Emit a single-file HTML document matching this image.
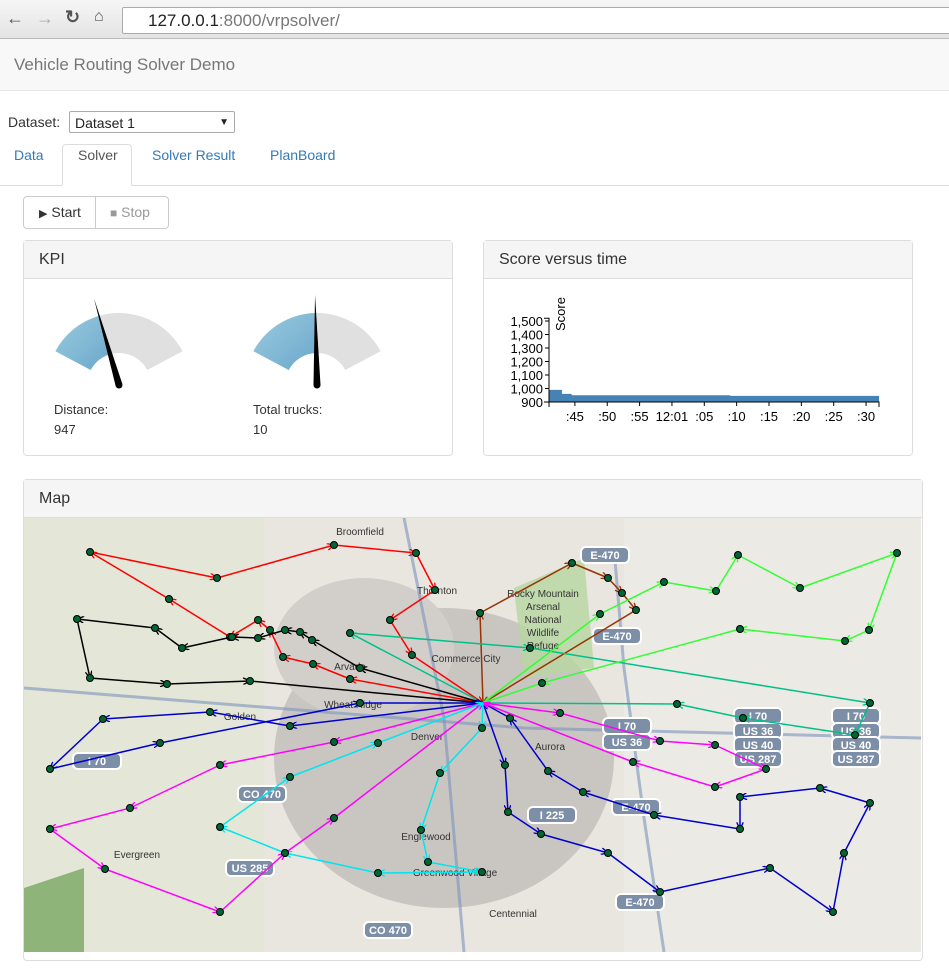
<!DOCTYPE html>
<html><head><meta charset="utf-8"><style>
body{margin:0;width:949px;height:971px;overflow:hidden;font-family:"Liberation Sans",sans-serif;background:#fff;position:relative}
.abs{position:absolute}
.panel{position:absolute;border:1px solid #ddd;border-radius:4px;background:#fff}
.ph{height:37px;background:#f5f5f5;border-bottom:1px solid #ddd;font-size:16px;color:#333;line-height:37px;padding-left:15px}
.tab{position:absolute;top:147px;font-size:14px;color:#337ab7}
</style></head><body>
<div class="abs" style="left:0;top:0;width:949px;height:38px;background:linear-gradient(#f6f6f6,#e4e4e4);border-bottom:1px solid #bbb"></div>
<div class="abs" style="left:6px;top:8px;font-size:18px;color:#555">&#8592;</div>
<div class="abs" style="left:36px;top:8px;font-size:18px;color:#aaa">&#8594;</div>
<div class="abs" style="left:65px;top:7px;font-size:18px;color:#555;font-weight:bold">&#8635;</div>
<div class="abs" style="left:94px;top:8px;font-size:16px;color:#555">&#8962;</div>
<div class="abs" style="left:122px;top:7px;width:840px;height:25px;background:#fff;border:1px solid #aaa;border-radius:2px;font-size:17px;line-height:25px;padding-left:25px;color:#777"><span style="color:#222">127.0.0.1</span>:8000/vrpsolver/</div>
<div class="abs" style="left:0;top:39px;width:949px;height:51px;background:#f8f8f8;border-bottom:1px solid #e7e7e7"><span style="position:absolute;left:14px;top:16px;font-size:17px;color:#777">Vehicle Routing Solver Demo</span></div>
<div class="abs" style="left:8px;top:114px;font-size:14px;color:#333">Dataset:</div>
<div class="abs" style="left:69px;top:111px;width:166px;height:22px;border:1px solid #aaa;border-radius:2px;font-size:14px;line-height:22px;padding-left:5px;box-sizing:border-box;color:#222">Dataset 1<span style="position:absolute;right:5px;font-size:10px">&#9660;</span></div>
<div class="abs" style="left:0;top:185px;width:949px;height:1px;background:#ddd"></div>
<div class="abs" style="left:62px;top:144px;width:70px;height:42px;border:1px solid #ddd;border-bottom-color:#fff;border-radius:4px 4px 0 0;background:#fff;box-sizing:border-box"></div>
<div class="tab" style="left:14px">Data</div>
<div class="tab" style="left:78px;color:#555">Solver</div>
<div class="tab" style="left:152px">Solver Result</div>
<div class="tab" style="left:270px">PlanBoard</div>
<div class="abs" style="left:23px;top:196px;width:73px;height:33px;border:1px solid #ccc;border-radius:4px 0 0 4px;box-sizing:border-box;font-size:14px;line-height:31px;color:#333;padding-left:15px"><span style="font-size:11px">&#9654;</span> Start</div>
<div class="abs" style="left:96px;top:196px;width:73px;height:33px;border:1px solid #ccc;border-left:none;border-radius:0 4px 4px 0;box-sizing:border-box;font-size:14px;line-height:31px;color:#999;padding-left:14px"><span style="font-size:12px">&#9632;</span> Stop</div>

<div class="panel" style="left:23px;top:240px;width:428px;height:214px">
<div class="ph">KPI</div></div>
<svg class="abs" style="left:0;top:0" width="460" height="460">
<defs><linearGradient id="gb" x1="0" y1="0" x2="1" y2="1"><stop offset="0" stop-color="#9ccbe0"/><stop offset="1" stop-color="#6aa8cb"/></linearGradient></defs>
<g id="gauges"></g>
<text x="54" y="414" font-size="13" fill="#333">Distance:</text>
<text x="54" y="434" font-size="13" fill="#333">947</text>
<text x="253" y="414" font-size="13" fill="#333">Total trucks:</text>
<text x="253" y="434" font-size="13" fill="#333">10</text>
</svg>

<div class="panel" style="left:483px;top:240px;width:428px;height:214px">
<div class="ph">Score versus time</div></div>
<svg class="abs" style="left:483px;top:280px" width="430" height="170" id="sc"></svg>

<div class="panel" style="left:23px;top:479px;width:898px;height:480px">
<div class="ph">Map</div></div>
<svg class="abs" style="left:24px;top:518px" width="897" height="434" id="map"></svg>

<script>
var NS="http://www.w3.org/2000/svg";
function mk(p,t,a){var e=document.createElementNS(NS,t);for(var k in a)e.setAttribute(k,a[k]);p.appendChild(e);return e;}
// gauges
var gaugeValues=[0.37,0.49];
var gaugeCenters=[119,317];
var g=document.getElementById('gauges');
function arcPath(cx,cy,R,r,a0,a1){function p(rad,a){return [cx+rad*Math.sin(a),cy-rad*Math.cos(a)];}
var A=p(R,a0),B=p(R,a1),C=p(r,a1),D=p(r,a0);var L=(a1-a0)>Math.PI?1:0;
return "M"+A+"A"+R+","+R+" 0 "+L+" 1 "+B+"L"+C+"A"+r+","+r+" 0 "+L+" 0 "+D+"Z";}
var span=62*Math.PI/180;
for(var i=0;i<gaugeValues.length;i++){
 var cx=gaugeCenters[i],cy=385,v=gaugeValues[i];var an=-span+2*span*v;
 var bg=mk(g,'path',{d:arcPath(cx,cy,72,32,-span,span),fill:'#e0e0e0'});
 
 
 var fg=mk(g,'path',{d:arcPath(cx,cy,72,32,-span,an),fill:'url(#gb)'});
 
 
 var tx=cx+90*Math.sin(an),ty=cy-90*Math.cos(an);var px=Math.cos(an)*3.5,py=Math.sin(an)*3.5;
 var nd=mk(g,'path',{d:"M"+tx+","+ty+"L"+(cx+px)+","+(cy+py)+"L"+(cx-px)+","+(cy-py)+"Z",fill:'#000'});
 
 
 var hub=mk(g,'circle',{cx:cx,cy:cy,r:3.5,fill:'#000'});
 
 
}
// score chart
var times=[41,43,44.5,69,92];
var scores=[990,960,950,945,945];
var yTicks=[900,1000,1100,1200,1300,1400,1500];
var yTickLabels=["900","1,000","1,100","1,200","1,300","1,400","1,500"];
var xTicks=[45,50,55,60,65,70,75,80,85,90];
var xTickLabels=[":45",":50",":55","12:01",":05",":10",":15",":20",":25",":30"];
var sc=document.getElementById('sc');
var X0=66,X1=396,Y0=122;
function sx(t){return X0+(t-41)/(92-41)*(X1-X0);}
function sy(v){return Y0-(v-900)*0.135;}
var d="M"+sx(times[0])+","+Y0;
for(var i=0;i<times.length;i++){d+="L"+sx(times[i])+","+sy(scores[i]);if(i<times.length-1)d+="L"+sx(times[i+1])+","+sy(scores[i]);}
d+="L"+sx(times[times.length-1])+","+Y0+"Z";
var ar=mk(sc,'path',{d:d,fill:'#4682b4'});


var ya=mk(sc,'path',{d:"M"+(X0-5)+","+(sy(1520))+"H"+X0+"V"+Y0+"H"+(X0-5),stroke:'#000',fill:'none'});


for(var i=0;i<yTicks.length;i++){var t=mk(sc,'text',{x:X0-6,y:sy(yTicks[i])+5,'font-size':13,'text-anchor':'end'});t.textContent=yTickLabels[i];
 
 
 mk(sc,'line',{x1:X0-4,x2:X0,y1:sy(yTicks[i]),y2:sy(yTicks[i]),stroke:'#000'});}
var xa=mk(sc,'path',{d:"M"+X0+","+(Y0+5)+"V"+Y0+"H"+X1+"V"+(Y0+5),stroke:'#000',fill:'none'});


for(var i=0;i<xTicks.length;i++){var t=mk(sc,'text',{x:sx(xTicks[i]),y:Y0+19,'font-size':13,'text-anchor':'middle'});t.textContent=xTickLabels[i];
 
 
 mk(sc,'line',{x1:sx(xTicks[i]),x2:sx(xTicks[i]),y1:Y0,y2:Y0+4,stroke:'#000'});}
var yt=mk(sc,'text',{transform:'translate(82,34) rotate(-90)','font-size':13,'text-anchor':'middle'});yt.textContent="Score";



// map
var m=document.getElementById('map');
mk(m,'rect',{width:897,height:434,fill:'#e9e6df'});
mk(m,'ellipse',{cx:420,cy:240,rx:170,ry:150,fill:'#c9c6c2'});
mk(m,'ellipse',{cx:340,cy:130,rx:90,ry:70,fill:'#d2cfca'});
mk(m,'rect',{x:600,y:0,width:297,height:434,fill:'#eceae4'});
mk(m,'rect',{x:0,y:0,width:240,height:434,fill:'#e4e6d8'});
mk(m,'path',{d:"M490,70 L560,40 L570,150 L500,160Z",fill:'#b6d7a0',opacity:0.8});
mk(m,'path',{d:"M0,370 L60,350 L60,434 L0,434Z",fill:'#8fb47a'});
mk(m,'path',{d:"M0,170 L500,210 L897,220",stroke:'#7c93bb',fill:'none','stroke-width':3,opacity:0.6});
mk(m,'path',{d:"M380,0 L420,200 L440,434",stroke:'#7c93bb',fill:'none','stroke-width':3,opacity:0.6});
mk(m,'path',{d:"M590,30 L600,150 L620,300 L640,434",stroke:'#7c93bb',fill:'none','stroke-width':3,opacity:0.6});
var depot=[483,703];
var routeColors=['#ff0000','#000000','#993300','#00c08a','#33ff33','#0000cc','#0000cc','#ff00ff','#ff00ff','#00e5ee'];
var r0=[[350,679],[313,664],[283,657],[270,630],[258,620],[230,637],[169,599],[90,552],[217,578],[334,545],[416,553],[435,590],[390,620],[412,655]];
var r1=[[360,668],[312,640],[300,632],[285,630],[258,638],[232,637],[182,648],[155,628],[77,619],[90,678],[167,684],[250,681]];
var r2=[[480,613],[572,563],[608,578],[622,593],[636,610]];
var r3=[[350,633],[530,648],[870,703],[855,735],[743,718],[677,704]];
var r4=[[600,614],[664,582],[716,591],[738,555],[800,588],[897,553],[869,630],[845,641],[740,629],[542,683]];
var r5=[[290,726],[210,712],[103,719],[50,769],[160,743],[360,703]];
var r6=[[505,765],[508,812],[541,834],[608,853],[660,892],[770,868],[833,912],[844,853],[870,803],[820,788],[740,797],[740,829],[654,815],[583,792],[548,771],[510,718]];
var r7=[[334,742],[220,765],[130,808],[50,829],[105,869],[220,912],[285,853],[334,818]];
var r8=[[560,713],[660,741],[715,745],[766,769],[715,787],[633,762]];
var r9=[[482,728],[440,773],[421,830],[428,862],[482,872],[378,873],[285,853],[220,827],[290,777],[378,743]];
var routes=[r0,r1,r2,r3,r4,r5,r6,r7,r8,r9];
var shields=[["E-470",605,555],["E-470",617,636],["I 70",627,726],["US 36",627,742],["I 70",758,716],["US 36",758,731],["US 40",758,745],["US 287",758,759],["I 70",856,716],["US 36",856,731],["US 40",856,745],["US 287",856,759],["I 70",97,761],["CO 470",262,794],["US 285",250,868],["I 225",552,815],["E-470",636,807],["E-470",640,902],["CO 470",388,930]];
for(var i=0;i<shields.length;i++){var s=shields[i];
 var rr=mk(m,'rect',{x:s[1]-24-24,y:s[2]-518-8,width:48,height:16,rx:5,fill:'#7d8ea7',stroke:'#fff','stroke-width':2});
 
 
 var t=mk(m,'text',{x:s[1]-24,y:s[2]-518+4,'font-size':11,'font-weight':'bold',fill:'#fff','text-anchor':'middle'});t.textContent=s[0];
 
 }
var places=[["Broomfield",360,535],["Thornton",437,594],["Commerce City",466,662],["Arvada",350,670],["Wheat Ridge",353,708],["Golden",240,720],["Denver",427,740],["Aurora",550,750],["Englewood",426,840],["Greenwood Village",455,876],["Centennial",513,917],["Evergreen",137,858],["Rocky Mountain",543,597],["Arsenal",543,610],["National",543,623],["Wildlife",543,636],["Refuge",543,649]];
for(var i=0;i<places.length;i++){var p=places[i];var t=mk(m,'text',{x:p[1]-24,y:p[2]-518,'font-size':10,fill:'#333','text-anchor':'middle'});t.textContent=p[0];
 
 }
mk(m,'defs',{}).innerHTML='';
var defs=m.querySelector('defs');
for(var k=0;k<routes.length;k++){
 var mm=mk(defs,'marker',{id:'ar'+k,viewBox:'0 0 10 10',refX:10,refY:5,markerWidth:7,markerHeight:7,orient:'auto',markerUnits:'userSpaceOnUse'});
 mk(mm,'path',{d:'M0,0L10,5L0,10',fill:'none',stroke:routeColors[k],'stroke-width':2});
 var pts=[depot].concat(routes[k]).concat([depot]);
 for(var i=0;i<pts.length-1;i++){
  var a=pts[i],b=pts[i+1];
  var ln=mk(m,'line',{x1:a[0]-24,y1:a[1]-518,x2:b[0]-24,y2:b[1]-518,stroke:routeColors[k],'stroke-width':1.5,'marker-end':'url(#ar'+k+')'});
  
  
 }
 for(var i=0;i<routes[k].length;i++){
  var c=mk(m,'circle',{cx:routes[k][i][0]-24,cy:routes[k][i][1]-518,r:3.5,fill:'#063',stroke:'#000'});
  
  
 }
}
</script>
</body></html>
